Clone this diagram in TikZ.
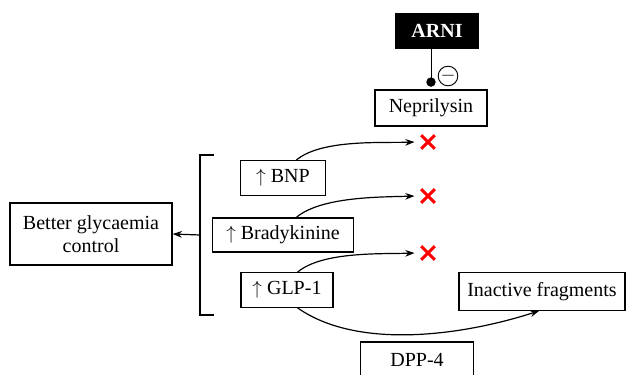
\documentclass[tikz,border=0pt]{standalone}
\usepackage{xcolor}
\usepackage{fontspec}
\setmainfont{Liberation Serif}
\usepackage{tikz}
\usetikzlibrary{shapes.misc}
\usetikzlibrary{arrows.meta}

\begin{document}
\begin{tikzpicture}[x=0.75pt,y=0.75pt,line width=0.9pt,font=\fontsize{15}{17}\selectfont]

			\tikzstyle{box} = [draw,fill=white,inner sep=0pt,align=center]
			\tikzstyle{stop} = [cross out,draw=red,line width=2.2pt,minimum size=8pt,inner sep=0pt]
			\tikzstyle{arr} = [-{Stealth[length=7pt,width=5pt]}]

			\useasboundingbox (0,0) rectangle (636,-375);
			\clip (0,0) rectangle (636,-375);

			\node[box,fill=black,text=white,font=\fontsize{15}{17}\selectfont\bfseries,minimum width=61.5pt,minimum height=25.5pt] (arni) at (437,-31) {ARNI};
			\node[box,minimum width=84pt,minimum height=27pt] (nep) at (431,-108) {Neprilysin};
			\draw[line width=0.7pt,-{Circle[length=7pt]}] (arni.south -| nep.north) -- ([yshift=2pt]nep.north);
			\node[draw,circle,line width=0.7pt,minimum size=14pt,inner sep=0pt] (inh) at (448,-76) {$-$};

			\node[box,minimum width=64pt,minimum height=26pt] (bnp) at (283,-178) {$\uparrow$ BNP};
			\node[box,minimum width=106pt,minimum height=25.5pt] (bra) at (283,-235) {$\uparrow$ Bradykinine};
			\node[box,minimum width=69pt,minimum height=26pt] (glp) at (287,-290) {$\uparrow$ GLP-1};

			\node[stop] (x1) at (428,-142) {};
			\node[stop] (x2) at (428,-196) {};
			\node[stop] (x3) at (428,-253) {};

			\draw[arr] ([xshift=10pt]bnp.north) to[out=40,in=182,looseness=0.7] ([xshift=-5pt]x1.west);
			\draw[arr] ([xshift=10pt]bra.north) to[out=40,in=182,looseness=0.7] ([xshift=-5pt]x2.west);
			\draw[arr] ([xshift=8pt]glp.north) to[out=40,in=182,looseness=0.7] ([xshift=-5pt]x3.west);

			% bracket
			\draw (214,-155) -- (200,-155) -- (200,-315) -- (214,-315);
			\coordinate (brk) at (200,-235);
			\node[box,minimum width=121.5pt,minimum height=46.5pt] (gly) at (91,-234) {Better glycaemia\\control};
			\draw[arr] (brk) -- (gly.east);

			\node[box,minimum width=124.5pt,minimum height=28pt] (ina) at (542,-291.5) {Inactive fragments};
			\draw[arr] ([xshift=8pt]glp.south) to[out=-35,in=198,looseness=0.8] ([xshift=-2pt]ina.south);

			\node[box,minimum width=85pt,minimum height=27pt] (dpp) at (417,-360) {DPP-4};
		\end{tikzpicture}
\end{document}
